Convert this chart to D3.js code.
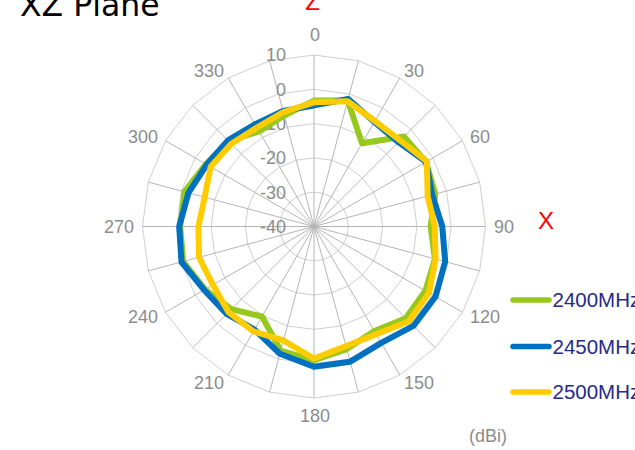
<!DOCTYPE html>
<html>
<head>
<meta charset="utf-8">
<script src="https://cdn.jsdelivr.net/npm/d3@7"></script>
<style>
  html, body { margin: 0; padding: 0; background: #fff; }
  svg { display: block; }
</style>
</head>
<body>
<svg id="chart" width="635" height="450"></svg>
<script>
// ---- data ----
const angles = [0,15,30,45,60,75,90,105,120,135,150,165,180,195,210,225,240,255,270,285,300,315,330,345];
const angleLabels = ["0","30","60","90","120","150","180","210","240","270","300","330"];
const angleLabelValues = [0,30,60,90,120,150,180,210,240,270,300,330];
const ringTicks = [-40,-30,-20,-10,0,10];
const seriesNames = ["2400MHz","2450MHz","2500MHz"];
const gain2400 = [-3.3,-2.0,-12.0,-2.9,-2.3,-3.4,-6.0,-3.5,-2.5,-2.2,-4.8,-3.0,-1.0,-2.5,-9.7,-5.9,-3.3,-0.5,-1.0,-0.9,-3.6,-4.8,-8.0,-6.5];
const gain2450 = [-4.7,-1.5,-4.8,-5.2,-2.3,-4.3,-2.6,-0.4,0.9,1.0,-0.8,0.8,0.9,-1.6,-5.3,-4.0,-3.0,0.0,-0.7,-2.1,-3.9,-4.5,-5.6,-5.1];
const gain2500 = [-3.8,-2.2,-4.5,-4.5,-2.0,-5.7,-4.8,-3.3,-1.3,-0.9,-3.7,-3.9,-1.5,-5.6,-4.7,-4.7,-6.0,-5.3,-6.3,-7.0,-5.2,-5.9,-6.7,-5.5];
const seriesColors = ["#96c81e","#0070c0","#ffcc00"];

// ---- layout ----
const svg = d3.select("#chart");
const cx = 314, cy = 226.5, R = 171.5;
const rScale = d3.scaleLinear().domain([-40, 10]).range([0, R]);
const toRad = a => a * Math.PI / 180;
const g = svg.append("g").attr("transform", `translate(${cx},${cy})`);

// rings (polygonal)
const ringLine = d3.lineRadial()
  .angle(a => toRad(a))
  .curve(d3.curveLinearClosed);
ringTicks.filter(t => t > -40).forEach(t => {
  g.append("path")
    .attr("d", ringLine.radius(() => rScale(t))(angles))
    .attr("fill", "none")
    .attr("stroke", "#cfcfcf")
    .attr("stroke-width", 1);
});

// spokes
g.selectAll("line.spoke").data(angles).join("line")
  .attr("class", "spoke")
  .attr("x1", 0).attr("y1", 0)
  .attr("x2", a => rScale(10) * Math.sin(toRad(a)))
  .attr("y2", a => -rScale(10) * Math.cos(toRad(a)))
  .attr("stroke", "#b5b5b5")
  .attr("stroke-width", 1);

// ring labels
g.selectAll("text.ring").data(ringTicks).join("text")
  .attr("class", "ring")
  .attr("x", -28)
  .attr("y", t => -rScale(t))
  .attr("dy", "0.35em")
  .attr("text-anchor", "end")
  .attr("font-family", "Liberation Sans, Arial, sans-serif")
  .attr("font-size", 18)
  .attr("fill", "#8c8c8c")
  .text(t => t);

// angle labels
const labR = 180;
g.selectAll("text.ang").data(angleLabelValues).join("text")
  .attr("class", "ang")
  .attr("x", a => labR * Math.sin(toRad(a)) + (a === 0 || a === 180 ? 1 : 0))
  .attr("y", a => -labR * Math.cos(toRad(a)) + (a === 0 ? -11.5 : a === 180 ? 9.5 : 0))
  .attr("dy", "0.35em")
  .attr("text-anchor", a => { const s = Math.sin(toRad(a)); return s > 0.1 ? "start" : s < -0.1 ? "end" : "middle"; })
  .attr("font-family", "Liberation Sans, Arial, sans-serif")
  .attr("font-size", 18)
  .attr("fill", "#8c8c8c")
  .text((a, i) => angleLabels[i]);

// series
const seriesData = [gain2400, gain2450, gain2500];
const radial = d3.lineRadial()
  .angle((d, i) => toRad(angles[i]))
  .radius(d => rScale(d))
  .curve(d3.curveLinearClosed);
seriesData.forEach((s, k) => {
  g.append("path")
    .attr("d", radial(s))
    .attr("fill", "none")
    .attr("stroke", seriesColors[k])
    .attr("stroke-width", 6)
    .attr("stroke-linejoin", "round");
});

// legend
const legY = [300, 346.5, 392];
seriesNames.forEach((n, k) => {
  svg.append("line")
    .attr("x1", 513).attr("x2", 549)
    .attr("y1", legY[k]).attr("y2", legY[k])
    .attr("stroke", seriesColors[k])
    .attr("stroke-width", 5.5)
    .attr("stroke-linecap", "round");
  svg.append("text")
    .attr("x", 552.5).attr("y", legY[k])
    .attr("dy", "0.35em")
    .attr("font-family", "Liberation Sans, Arial, sans-serif")
    .attr("font-size", 20.5)
    .attr("fill", "#262a8a")
    .text(n);
});

// title and axis names
svg.append("text")
  .attr("x", 20).attr("y", 16)
  .attr("font-family", "DejaVu Sans, sans-serif")
  .attr("font-size", 31.5)
  .attr("fill", "#000")
  .text("XZ Plane");
svg.append("text")
  .attr("x", 312.5).attr("y", 10)
  .attr("text-anchor", "middle")
  .attr("font-family", "Liberation Sans, Arial, sans-serif")
  .attr("font-size", 24)
  .attr("fill", "#ff0000")
  .text("Z");
svg.append("text")
  .attr("x", 538).attr("y", 229)
  .attr("font-family", "Liberation Sans, Arial, sans-serif")
  .attr("font-size", 24)
  .attr("fill", "#ff0000")
  .text("X");
svg.append("text")
  .attr("x", 469).attr("y", 436)
  .attr("dy", "0.35em")
  .attr("font-family", "Liberation Sans, Arial, sans-serif")
  .attr("font-size", 18)
  .attr("fill", "#8c8c8c")
  .text("(dBi)");
</script>
</body>
</html>
